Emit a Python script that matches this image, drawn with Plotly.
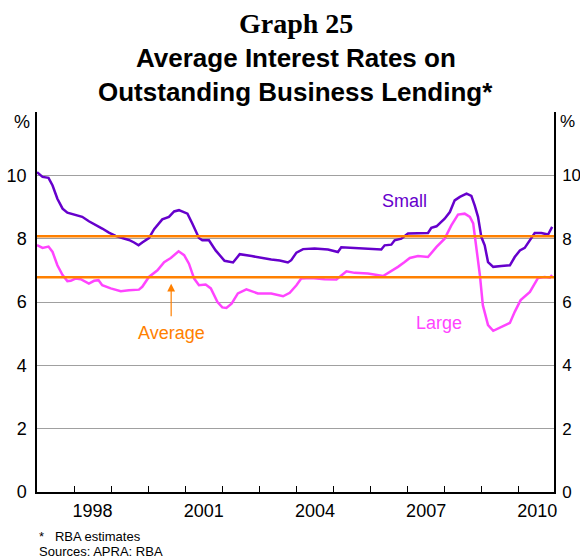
import plotly.graph_objects as go

# ---- data (decimal years, per cent) ----
small_x = [1997.00, 1997.15, 1997.31, 1997.42, 1997.55, 1997.69, 1997.82, 1998.04, 1998.22, 1998.40,
           1998.58, 1998.76, 1998.94, 1999.12, 1999.30, 1999.48, 1999.62, 1999.74, 1999.84, 2000.02,
           2000.16, 2000.38, 2000.56, 2000.70, 2000.83, 2001.06, 2001.19, 2001.37, 2001.46, 2001.64,
           2001.82, 2001.93, 2002.06, 2002.29, 2002.47, 2002.79, 2003.05, 2003.32, 2003.55, 2003.77,
           2003.86, 2004.00, 2004.18, 2004.49, 2004.85, 2005.12, 2005.21, 2005.57, 2005.93, 2006.29,
           2006.38, 2006.56, 2006.65, 2006.83, 2007.01, 2007.55, 2007.64, 2007.78, 2008.00, 2008.14,
           2008.27, 2008.41, 2008.59, 2008.72, 2008.81, 2008.90, 2008.99, 2009.08, 2009.17, 2009.31,
           2009.53, 2009.76, 2009.89, 2010.03, 2010.16, 2010.30, 2010.43, 2010.61, 2010.79, 2010.90]
small_y = [10.10, 9.95, 9.92, 9.68, 9.26, 8.95, 8.82, 8.74, 8.69, 8.55,
           8.44, 8.32, 8.19, 8.09, 8.02, 7.96, 7.88, 7.79, 7.88, 8.02,
           8.30, 8.61, 8.69, 8.86, 8.90, 8.79, 8.48, 8.02, 7.95, 7.95,
           7.63, 7.48, 7.30, 7.25, 7.51, 7.45, 7.39, 7.34, 7.31, 7.25,
           7.32, 7.56, 7.67, 7.69, 7.66, 7.58, 7.73, 7.71, 7.67, 7.66,
           7.79, 7.81, 7.95, 8.00, 8.16, 8.18, 8.34, 8.39, 8.63, 8.84,
           9.21, 9.32, 9.42, 9.35, 9.05, 8.69, 8.05, 7.79, 7.26, 7.11,
           7.14, 7.16, 7.42, 7.63, 7.71, 7.95, 8.18, 8.18, 8.13, 8.37]

large_x = [1997.00, 1997.15, 1997.31, 1997.42, 1997.55, 1997.69, 1997.82, 1997.91, 1998.04, 1998.18,
           1998.40, 1998.54, 1998.66, 1998.76, 1998.99, 1999.26, 1999.48, 1999.75, 1999.84, 2000.02,
           2000.25, 2000.43, 2000.61, 2000.82, 2000.97, 2001.10, 2001.24, 2001.37, 2001.55, 2001.69,
           2001.87, 2002.00, 2002.11, 2002.25, 2002.42, 2002.65, 2002.96, 2003.32, 2003.64, 2003.82,
           2004.00, 2004.13, 2004.40, 2004.76, 2005.08, 2005.21, 2005.35, 2005.57, 2005.93, 2006.34,
           2006.56, 2006.74, 2006.92, 2007.06, 2007.28, 2007.55, 2007.78, 2008.00, 2008.18, 2008.36,
           2008.54, 2008.68, 2008.77, 2008.86, 2008.95, 2009.03, 2009.17, 2009.31, 2009.49, 2009.76,
           2009.89, 2010.05, 2010.30, 2010.43, 2010.52, 2010.70, 2010.84, 2010.90]
large_y = [7.80, 7.71, 7.75, 7.58, 7.16, 6.85, 6.66, 6.67, 6.74, 6.72,
           6.58, 6.67, 6.69, 6.53, 6.43, 6.34, 6.37, 6.39, 6.48, 6.79,
           7.00, 7.26, 7.39, 7.60, 7.48, 7.21, 6.74, 6.53, 6.55, 6.43,
           6.00, 5.83, 5.81, 5.95, 6.27, 6.40, 6.27, 6.27, 6.18, 6.29,
           6.53, 6.74, 6.76, 6.72, 6.71, 6.85, 6.97, 6.92, 6.90, 6.82,
           6.97, 7.11, 7.26, 7.39, 7.45, 7.42, 7.74, 8.00, 8.42, 8.76,
           8.79, 8.69, 8.48, 7.69, 6.85, 5.90, 5.27, 5.09, 5.20, 5.34,
           5.69, 6.06, 6.32, 6.58, 6.76, 6.79, 6.77, 6.85]

avg_small = 8.08
avg_large = 6.78

year_ticks = list(range(1998, 2011))
year_labels = ["1998", "2001", "2004", "2007", "2010"]
y_ticks = [0, 2, 4, 6, 8, 10, 12]
y_ticktext = ["0", "2", "4", "6", "8", "10", ""]

# ---- styling ----
SANS = "Liberation Sans, Arial, sans-serif"
SERIF = "Liberation Serif, Times New Roman, serif"
PURPLE = "#6600CC"
MAGENTA = "#FF44FF"
ORANGE = "#FF8000"
GRID = "#A0A0A0"

W, H = 580, 560
ML, MR, MT, MB = 37, 26, 112, 68
PH = H - MT - MB
XR = [1997.0, 2010.95]
YR = [0, 12]


def py(pix_y):
    """pixel row -> paper y"""
    return (H - MB - pix_y) / PH


fig = go.Figure()

fig.add_hline(y=avg_small, line=dict(color=ORANGE, width=2.5), layer="above")
fig.add_hline(y=avg_large, line=dict(color=ORANGE, width=2.5), layer="above")

fig.add_trace(go.Scatter(x=small_x, y=small_y, mode="lines", name="Small",
                         line=dict(color=PURPLE, width=2.5), showlegend=False))
fig.add_trace(go.Scatter(x=large_x, y=large_y, mode="lines", name="Large",
                         line=dict(color=MAGENTA, width=2.5), showlegend=False))
# dummy trace to activate secondary axes
fig.add_trace(go.Scatter(x=[None], y=[None], xaxis="x2", yaxis="y2",
                         showlegend=False, hoverinfo="skip"))

fig.update_layout(
    width=W, height=H,
    margin=dict(l=ML, r=MR, t=MT, b=MB, pad=0, autoexpand=False),
    paper_bgcolor="white", plot_bgcolor="white",
    font=dict(family=SANS, size=18, color="black"),
    xaxis=dict(range=XR, tickvals=year_ticks, showticklabels=False,
               ticks="inside", ticklen=6, tickcolor="black", tickwidth=1,
               showgrid=False, zeroline=False, showline=True, automargin=False,
               linecolor="black", linewidth=1.5, fixedrange=True),
    xaxis2=dict(range=XR, overlaying="x", side="bottom", automargin=False,
                tickvals=[int(t) + 0.5 for t in year_labels], ticktext=year_labels,
                ticks="", showgrid=False, zeroline=False, showline=False,
                tickfont=dict(size=18), ticklabelstandoff=6),
    yaxis=dict(range=YR, tickvals=y_ticks, ticktext=y_ticktext, ticks="",
               showgrid=True, gridcolor=GRID, gridwidth=1, zeroline=False,
               showline=True, linecolor="black", linewidth=1.5, automargin=False,
               tickfont=dict(size=18), ticklabelstandoff=5),
    yaxis2=dict(range=YR, overlaying="y", side="right", tickvals=y_ticks,
                ticktext=y_ticktext, ticks="", showgrid=False, zeroline=False,
                showline=True, linecolor="black", linewidth=1.5, automargin=False,
                tickfont=dict(size=17), ticklabelstandoff=3),
)

ann = []
# titles
ann.append(dict(text="<b>Graph 25</b>", x=0.5, y=py(24), xref="paper", yref="paper",
                showarrow=False, font=dict(family=SERIF, size=28), xanchor="center", yanchor="middle"))
ann.append(dict(text="<b>Average Interest Rates on</b>", x=0.5, y=py(58), xref="paper", yref="paper",
                showarrow=False, font=dict(family=SANS, size=26), xanchor="center", yanchor="middle"))
ann.append(dict(text="<b>Outstanding Business Lending*</b>", x=0.5, y=py(92), xref="paper", yref="paper",
                showarrow=False, font=dict(family=SANS, size=26), xanchor="center", yanchor="middle"))
# % units
ann.append(dict(text="%", x=0, y=11.7, xref="paper", yref="y", showarrow=False,
                xanchor="right", xshift=-5, font=dict(size=18)))
ann.append(dict(text="%", x=1, y=11.7, xref="paper", yref="y", showarrow=False,
                xanchor="left", xshift=4, font=dict(size=17)))
# series labels
ann.append(dict(text="Small", x=2006.91, y=9.2, xref="x", yref="y", showarrow=False,
                font=dict(color=PURPLE, size=18)))
ann.append(dict(text="Large", x=2007.84, y=5.35, xref="x", yref="y", showarrow=False,
                font=dict(color=MAGENTA, size=18)))
ann.append(dict(text="Average", x=2000.62, y=5.03, xref="x", yref="y", showarrow=False,
                font=dict(color=ORANGE, size=18)))
ann.append(dict(text="", x=2000.62, y=6.58, ax=2000.62, ay=5.5, xref="x", yref="y",
                axref="x", ayref="y", showarrow=True, arrowhead=2, arrowsize=1.3,
                arrowwidth=1.2, arrowcolor=ORANGE))
# footnotes
ann.append(dict(text="*\u00a0\u00a0\u00a0RBA estimates", x=0, y=py(536), xref="paper", yref="paper",
                showarrow=False, xanchor="left", yanchor="middle", font=dict(size=13)))
ann.append(dict(text="Sources: APRA: RBA", x=0, y=py(551), xref="paper", yref="paper",
                showarrow=False, xanchor="left", yanchor="middle", font=dict(size=13)))

fig.update_layout(annotations=ann)

fig.write_html(
    "out.html",
    config={"displayModeBar": False},
    post_script="document.body.style.margin='0';document.body.style.overflow='hidden';",
)
